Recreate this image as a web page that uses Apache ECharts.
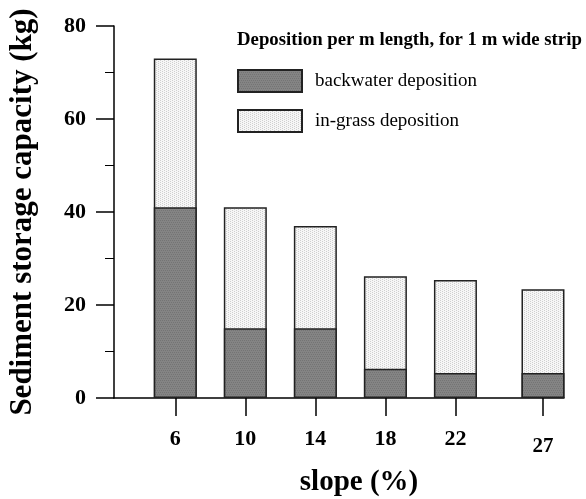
<!DOCTYPE html>
<html>
<head>
<meta charset="utf-8">
<script src="https://cdn.jsdelivr.net/npm/echarts@6/dist/echarts.min.js"></script>
<style>
  body { margin: 0; background: #fff; }
  #main { width: 586px; height: 499px; }
</style>
</head>
<body>
<div id="main"></div>
<script>
// slope (%) and deposition per m length (kg)
const slopes = [6, 10, 14, 18, 22, 27];
const backwater = [41, 15, 15, 6.3, 5.4, 5.4];
const inGrass = [32, 26, 22, 19.9, 20, 18];
const yTicks = [0, 20, 40, 60, 80];

// in-grass sits on top of backwater: draw its bar up to the total,
// the backwater bar is painted over the lower part
const totals = slopes.map((s, i) => backwater[i] + inGrass[i]);

// small dotted textures, like the printed hatching
function makePattern(bg, dot, pts) {
  const c = document.createElement('canvas');
  c.width = 4; c.height = 4;
  const ctx = c.getContext('2d');
  ctx.fillStyle = bg;
  ctx.fillRect(0, 0, 4, 4);
  ctx.fillStyle = dot;
  pts.forEach(p => ctx.fillRect(p[0], p[1], 1, 1));
  return { image: c, repeat: 'repeat' };
}
const darkFill = makePattern('#848484', '#747474', [[0, 0], [2, 0], [1, 2], [3, 2]]);
const lightFill = makePattern('#f6f6f6', '#cfcfcf', [[0, 0], [0, 2], [2, 1], [2, 3]]);

const serif = '"Liberation Serif", "Times New Roman", serif';

const myChart = echarts.init(document.getElementById('main'));
myChart.setOption({
  animation: false,
  title: {
    text: 'Deposition per m length, for 1 m wide strip',
    left: 232,
    top: 26,
    textStyle: { fontFamily: serif, fontWeight: 'bold', fontSize: 18.8, color: '#000' }
  },
  legend: {
    orient: 'vertical',
    left: 232,
    top: 64,
    icon: 'rect',
    itemWidth: 64,
    itemHeight: 22,
    itemGap: 16,
    textStyle: { fontFamily: serif, fontSize: 19, color: '#000', padding: [0, 0, 0, 8] },
    data: ['backwater deposition', 'in-grass deposition']
  },
  grid: { left: 114, right: 22, top: 26, bottom: 101, outerBoundsMode: 'none', containLabel: false },
  xAxis: {
    type: 'value',
    min: 2.5,
    max: 28.2,
    name: 'slope (%)',
    nameLocation: 'middle',
    nameGap: 70,
    nameTextStyle: { fontFamily: serif, fontWeight: 'bold', fontSize: 29, color: '#000', padding: [0, 0, 0, 40] },
    axisLine: { lineStyle: { color: '#000', width: 1.5 } },
    axisTick: { show: true, customValues: slopes, length: 18, lineStyle: { color: '#000', width: 1.5 } },
    axisLabel: {
      customValues: slopes,
      margin: 30,
      fontFamily: serif, fontWeight: 'bold', fontSize: 22, color: '#000',
      formatter: v => v === 27 ? '{low|27}' : String(v),
      rich: { low: { fontFamily: serif, fontWeight: 'bold', fontSize: 21, color: '#000', padding: [8, 0, 0, 0] } }
    },
    splitLine: { show: false }
  },
  yAxis: {
    type: 'value',
    min: 0,
    max: 80,
    interval: 20,
    name: 'Sediment storage capacity (kg)',
    nameLocation: 'middle',
    nameGap: 76,
    nameTextStyle: { fontFamily: serif, fontWeight: 'bold', fontSize: 31, color: '#000' },
    axisLine: { show: true, lineStyle: { color: '#000', width: 1.5 } },
    axisTick: { show: true, length: 18, lineStyle: { color: '#000', width: 1.5 } },
    minorTick: { show: true, splitNumber: 2, length: 9, lineStyle: { color: '#000', width: 1 } },
    axisLabel: {
      margin: 28,
      fontFamily: serif, fontWeight: 'bold', fontSize: 22, color: '#000',
      formatter: v => yTicks.includes(v) ? String(v) : ''
    },
    splitLine: { show: false }
  },
  series: [
    {
      name: 'backwater deposition',
      type: 'bar',
      barWidth: 43,
      barGap: '-100%',
      z: 3,
      itemStyle: { color: darkFill, borderColor: '#222', borderWidth: 1.5 },
      data: slopes.map((s, i) => [s, backwater[i]])
    },
    {
      name: 'in-grass deposition',
      type: 'bar',
      barWidth: 43,
      barGap: '-100%',
      z: 2,
      itemStyle: { color: lightFill, borderColor: '#222', borderWidth: 1.5 },
      data: slopes.map((s, i) => [s, totals[i]])
    }
  ]
});
</script>
</body>
</html>
